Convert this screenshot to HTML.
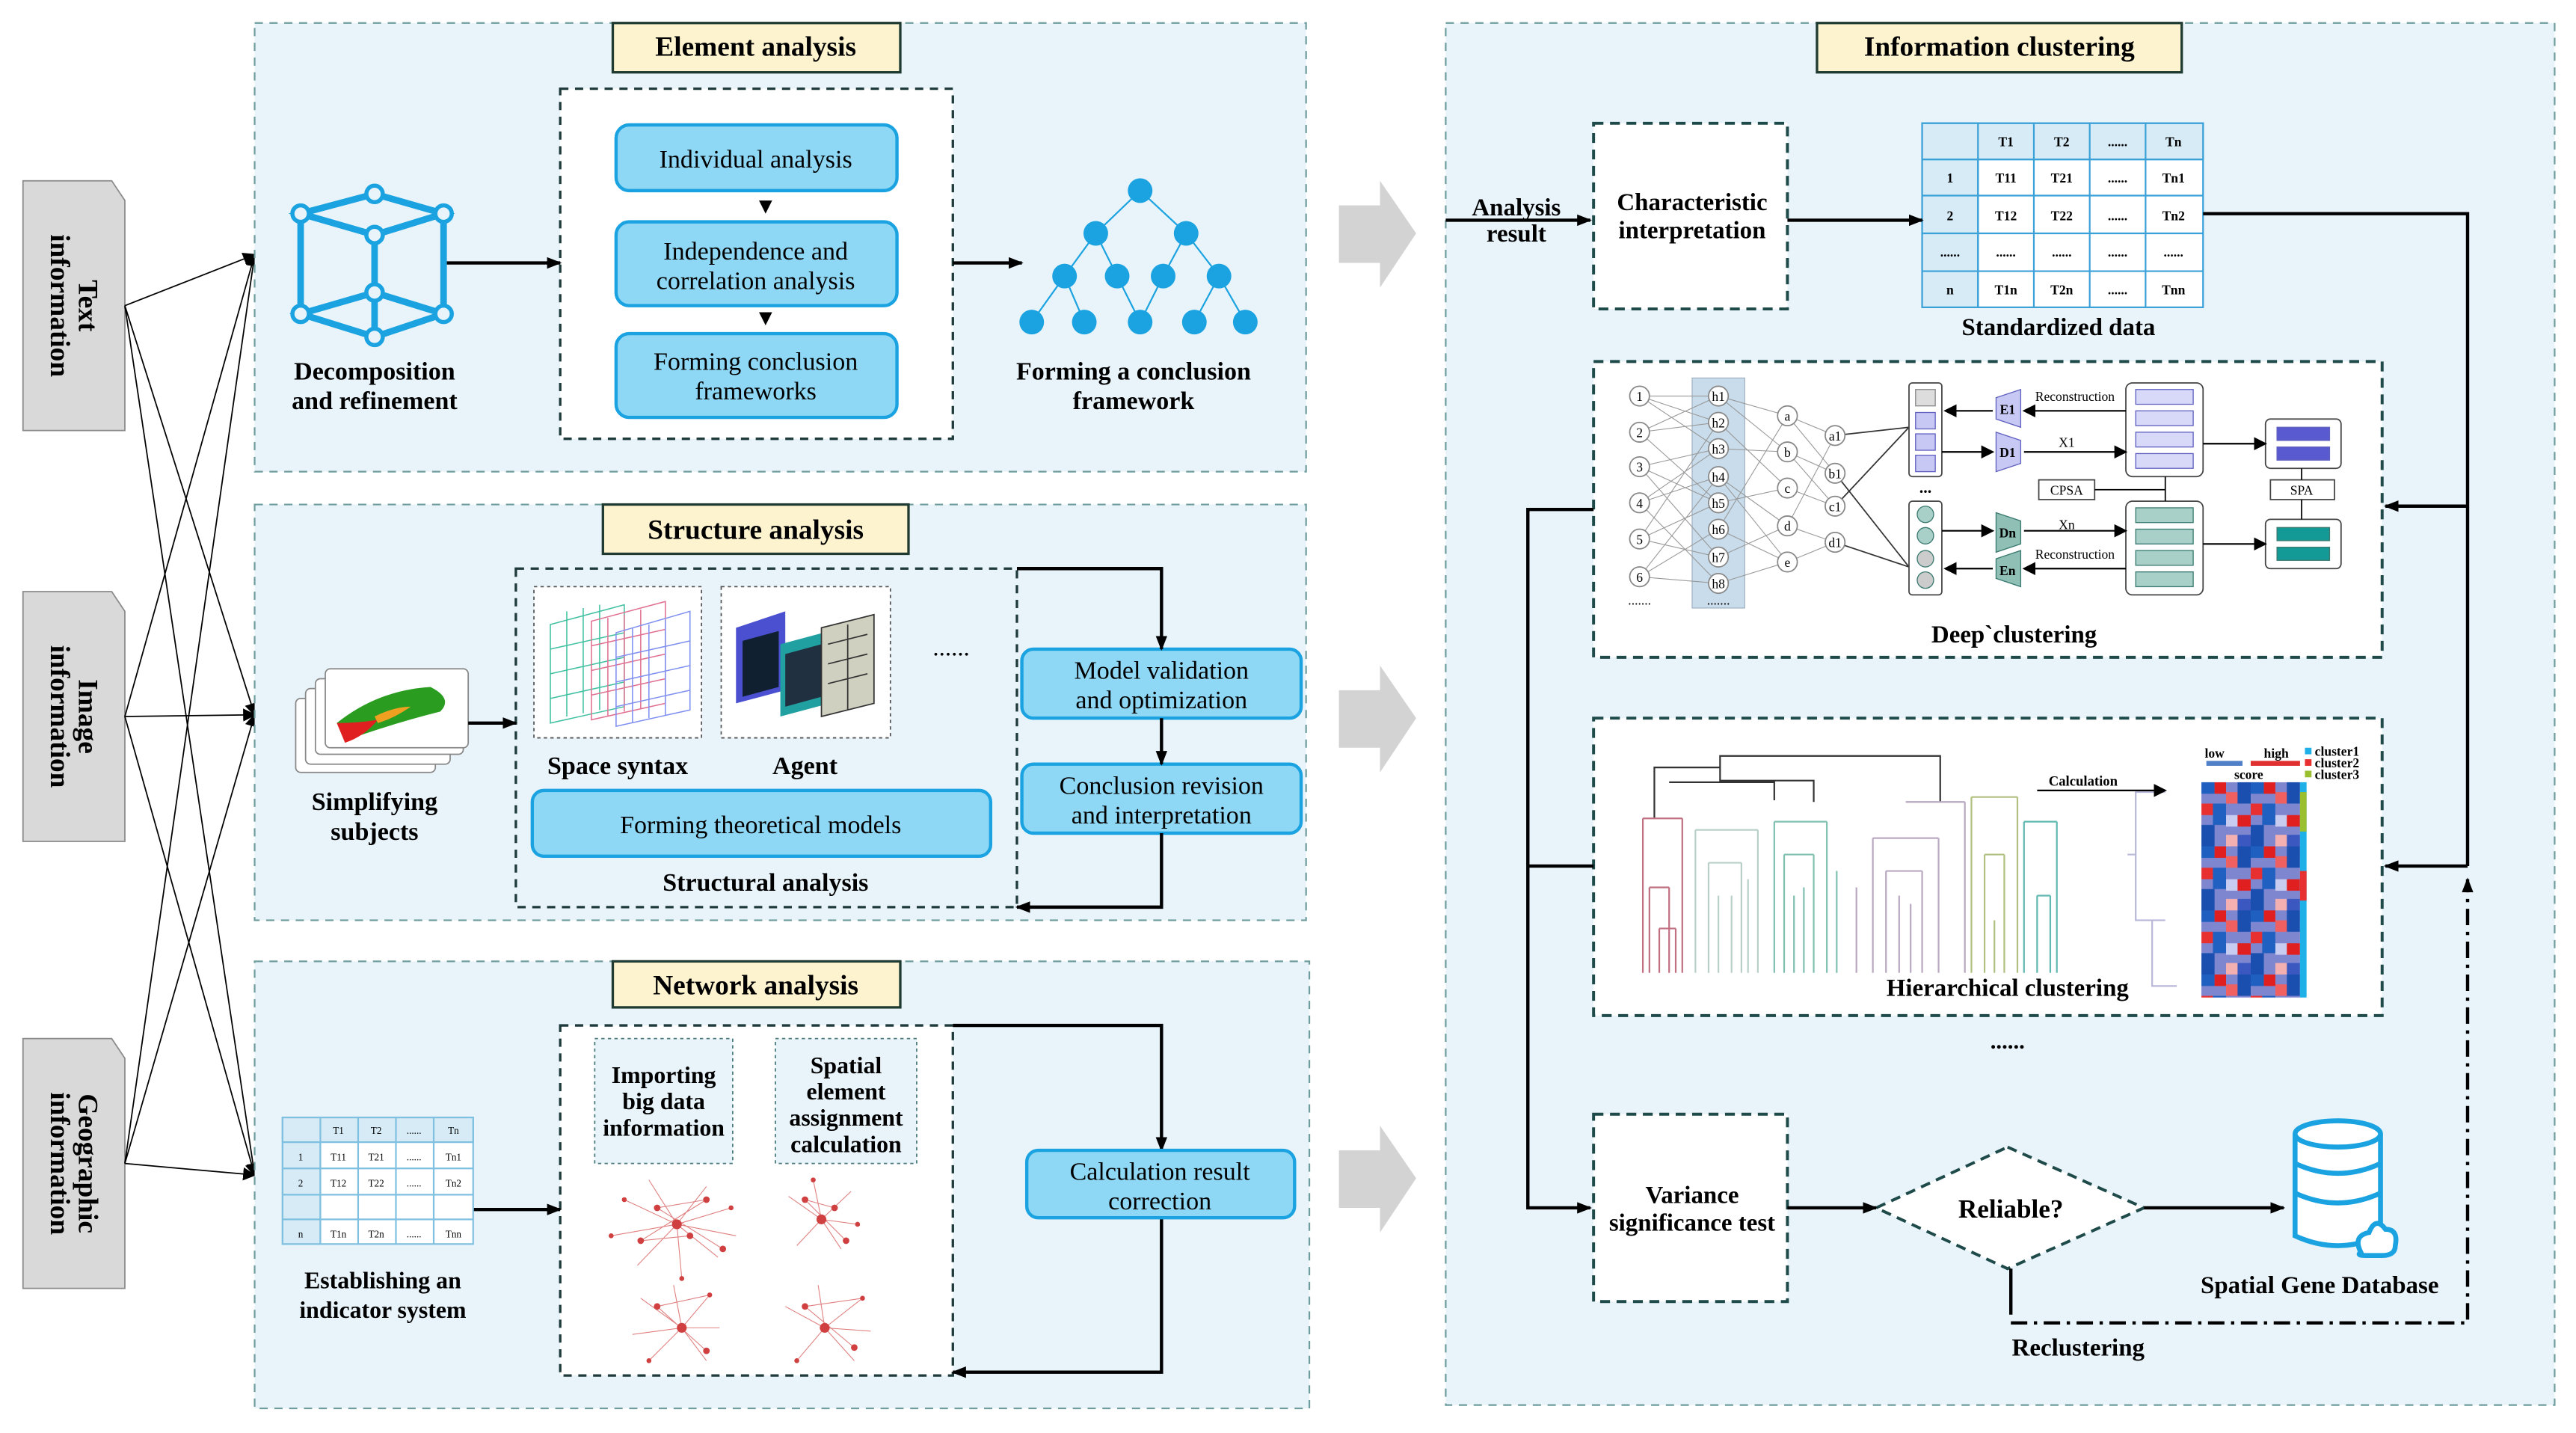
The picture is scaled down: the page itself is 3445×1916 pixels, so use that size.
<!DOCTYPE html>
<html><head><meta charset="utf-8"><style>html,body{margin:0;padding:0;background:#fff}svg{display:block}</style></head>
<body>
<svg width="3445" height="1916" viewBox="0 0 1568 872" preserveAspectRatio="none" xmlns="http://www.w3.org/2000/svg" font-family="Liberation Serif, serif">
<defs>
<marker id="a" markerWidth="8" markerHeight="8" refX="7" refY="4" orient="auto" markerUnits="userSpaceOnUse"><path d="M0,0 L8,4 L0,8 z" fill="#000"/></marker>
<marker id="s" markerWidth="9" markerHeight="7" refX="8" refY="3.5" orient="auto" markerUnits="userSpaceOnUse"><path d="M0,0 L9,3.5 L0,7 z" fill="#000"/></marker>
<pattern id="hm" width="30" height="39" patternUnits="userSpaceOnUse" x="1340" y="476">
<rect width="30" height="39" fill="#7f86d0"/>
<rect x="0" y="0" width="8" height="7" fill="#1f5fc0"/><rect x="8" y="0" width="7" height="7" fill="#e02020"/><rect x="15" y="6" width="8" height="7" fill="#f06060"/>
<rect x="22" y="0" width="8" height="13" fill="#1a4fb0"/><rect x="0" y="13" width="7" height="7" fill="#e83030"/><rect x="7" y="13" width="8" height="13" fill="#2060c0"/>
<rect x="15" y="20" width="8" height="7" fill="#c8ccf0"/><rect x="22" y="20" width="8" height="7" fill="#e02020"/><rect x="0" y="26" width="8" height="13" fill="#1a4fb0"/>
<rect x="15" y="32" width="8" height="7" fill="#f4b0b0"/><rect x="22" y="32" width="8" height="7" fill="#3a58c0"/>
</pattern>
</defs>
<rect width="1568" height="872" fill="#fff"/>

<!-- left tabs -->
<g fill="#d9d9d9" stroke="#8a8a8a" stroke-width="0.8">
<path d="M14,110 H68 L76,122 V262 H14 Z"/><path d="M14,360 H68 L76,372 V512 H14 Z"/><path d="M14,632 H68 L76,644 V784 H14 Z"/>
</g>
<g font-weight="bold" font-size="17" text-anchor="middle">
<text transform="translate(45,186) rotate(90)"><tspan x="0" dy="-3">Text</tspan><tspan x="0" dy="17">information</tspan></text>
<text transform="translate(45,436) rotate(90)"><tspan x="0" dy="-3">Image</tspan><tspan x="0" dy="17">information</tspan></text>
<text transform="translate(45,708) rotate(90)"><tspan x="0" dy="-3">Geographic</tspan><tspan x="0" dy="17">information</tspan></text>
</g>
<g stroke="#000" stroke-width="0.8" marker-end="url(#a)">
<line x1="76" y1="186" x2="155" y2="155"/><line x1="76" y1="186" x2="155" y2="435"/><line x1="76" y1="186" x2="155" y2="715"/>
<line x1="76" y1="436" x2="155" y2="155"/><line x1="76" y1="436" x2="155" y2="435"/><line x1="76" y1="436" x2="155" y2="715"/>
<line x1="76" y1="708" x2="155" y2="155"/><line x1="76" y1="708" x2="155" y2="435"/><line x1="76" y1="708" x2="155" y2="715"/>
</g>

<!-- panels -->
<g fill="#e8f3fa" stroke="#6f9d9d" stroke-width="1" stroke-dasharray="5,4">
<rect x="155" y="14" width="640" height="273"/><rect x="155" y="307" width="640" height="253"/><rect x="155" y="585" width="642" height="272"/><rect x="880" y="14" width="675" height="841"/>
</g>
<g fill="#fdf3cf" stroke="#1f3a30" stroke-width="1.5">
<rect x="373" y="14" width="175" height="30"/><rect x="367" y="307" width="186" height="30"/><rect x="373" y="585" width="175" height="28"/><rect x="1106" y="14" width="222" height="30"/>
</g>
<g font-weight="bold" font-size="17" text-anchor="middle">
<text x="460" y="34">Element analysis</text><text x="460" y="328">Structure analysis</text><text x="460" y="605">Network analysis</text><text x="1217" y="34">Information clustering</text>
</g>

<!-- gray big arrows -->
<g fill="#d3d3d3"><path d="M815,125 H840 V110 L862,142 L840,175 V160 H815 Z"/><path d="M815,420 H840 V405 L862,437 L840,470 V455 H815 Z"/><path d="M815,700 H840 V685 L862,717 L840,750 V735 H815 Z"/></g>

<!-- Element analysis -->
<rect x="341" y="54" width="239" height="213" fill="#fff" stroke="#1f3a3a" stroke-width="1.5" stroke-dasharray="5,4"/>
<g fill="#8fd8f5" stroke="#1aa3e0" stroke-width="2">
<rect x="375" y="76" width="171" height="40" rx="8"/><rect x="375" y="135" width="171" height="51" rx="8"/><rect x="375" y="203" width="171" height="51" rx="8"/>
</g>
<g font-size="15.5" text-anchor="middle">
<text x="460" y="102">Individual analysis</text><text x="460" y="158">Independence and</text><text x="460" y="176">correlation analysis</text>
<text x="460" y="225">Forming conclusion</text><text x="460" y="243">frameworks</text>
</g>
<path d="M462,122 L470,122 L466,130 Z M462,190 L470,190 L466,198 Z" fill="#000"/>
<g stroke="#1aa3e0" stroke-width="4" fill="none">
<path d="M183,130 L228,118 L270,130 L228,143 Z M183,191 L228,178 L270,191 L228,205 Z M183,130 V191 M270,130 V191 M228,143 V205"/>
</g>
<g fill="#e8f3fa" stroke="#1aa3e0" stroke-width="2.5">
<circle cx="183" cy="130" r="5"/><circle cx="228" cy="118" r="5"/><circle cx="270" cy="130" r="5"/><circle cx="228" cy="143" r="5"/>
<circle cx="183" cy="191" r="5"/><circle cx="228" cy="178" r="5"/><circle cx="270" cy="191" r="5"/><circle cx="228" cy="205" r="5"/>
</g>
<g font-weight="bold" font-size="15.5" text-anchor="middle">
<text x="228" y="231">Decomposition</text><text x="228" y="249">and refinement</text>
<text x="690" y="231">Forming a conclusion</text><text x="690" y="249">framework</text>
</g>
<g stroke="#000" stroke-width="2" marker-end="url(#s)"><line x1="272" y1="160" x2="341" y2="160"/><line x1="580" y1="160" x2="622" y2="160"/></g>
<g stroke="#1aa3e0" stroke-width="1" fill="none">
<path d="M694,116 L667,142 L648,168 L628,196 M648,168 L660,196 M667,142 L680,168 L694,196 M694,116 L722,142 L708,168 L694,196 M722,142 L742,168 L727,196 M742,168 L758,196"/>
</g>
<g fill="#1aa3e0"><circle cx="694" cy="116" r="7.5"/><circle cx="667" cy="142" r="7.5"/><circle cx="722" cy="142" r="7.5"/>
<circle cx="648" cy="168" r="7.5"/><circle cx="680" cy="168" r="7.5"/><circle cx="708" cy="168" r="7.5"/><circle cx="742" cy="168" r="7.5"/>
<circle cx="628" cy="196" r="7.5"/><circle cx="660" cy="196" r="7.5"/><circle cx="694" cy="196" r="7.5"/><circle cx="727" cy="196" r="7.5"/><circle cx="758" cy="196" r="7.5"/></g>

<!-- Structure analysis -->
<rect x="314" y="346" width="305" height="206" fill="#e8f3fa" stroke="#1f3a3a" stroke-width="1.5" stroke-dasharray="5,4"/>
<g fill="#fff" stroke="#555" stroke-width="0.8" stroke-dasharray="2,2"><rect x="325" y="357" width="102" height="92"/><rect x="439" y="357" width="103" height="92"/></g>
<g fill="none" stroke-width="0.7">
<path d="M335,380 L380,368 L380,430 L335,440 Z M345,372 V436 M355,370 V434 M365,368 V432 M335,395 L380,385 M335,410 L380,400 M335,425 L380,415" stroke="#40c0a0"/>
<path d="M360,378 L405,366 L405,428 L360,438 Z M370,376 V436 M380,374 V433 M390,371 V431 M360,393 L405,383 M360,408 L405,398 M360,423 L405,413" stroke="#e07090"/>
<path d="M375,385 L420,372 L420,432 L375,442 Z M385,382 V440 M395,380 V437 M405,377 V435 M375,400 L420,390 M375,415 L420,405 M375,430 L420,420" stroke="#8090f0"/>
</g>
<path d="M448,382 L478,372 L478,420 L448,428 Z" fill="#4a50d0"/><path d="M452,390 L474,384 L474,418 L452,424 Z" fill="#102030"/>
<path d="M475,392 L505,384 L505,428 L475,436 Z" fill="#20a0a0"/><path d="M478,398 L500,392 L500,424 L478,430 Z" fill="#203040"/>
<path d="M500,382 L532,374 L532,428 L500,436 Z" fill="#d0d0c0" stroke="#333" stroke-width="0.8"/><path d="M504,392 L528,386 M504,404 L528,398 M504,416 L528,410 M516,380 V432" stroke="#333" stroke-width="0.8" fill="none"/>
<text x="579" y="399" font-size="15" text-anchor="middle">......</text>
<g font-weight="bold" font-size="15.5" text-anchor="middle"><text x="376" y="471">Space syntax</text><text x="490" y="471">Agent</text><text x="466" y="542">Structural analysis</text>
<text x="228" y="493">Simplifying</text><text x="228" y="511">subjects</text></g>
<rect x="324" y="481" width="279" height="40" rx="7" fill="#8fd8f5" stroke="#1aa3e0" stroke-width="2"/>
<text x="463" y="507" font-size="15.5" text-anchor="middle">Forming theoretical models</text>
<g fill="#fff" stroke="#888" stroke-width="0.8"><rect x="180" y="425" width="85" height="45" rx="3"/><rect x="186" y="419" width="88" height="46" rx="3"/><rect x="192" y="413" width="90" height="46" rx="3"/><rect x="198" y="407" width="87" height="48" rx="3"/></g>
<path d="M205,440 Q230,420 262,418 Q276,425 268,433 Q240,440 212,450 Z" fill="#2a9d20"/><path d="M205,440 Q218,440 230,438 Q222,448 210,452 Z" fill="#e02020"/><path d="M228,436 Q240,430 250,430 Q240,437 230,440Z" fill="#f0a020"/>
<line x1="285" y1="440" x2="314" y2="440" stroke="#000" stroke-width="2" marker-end="url(#s)"/>
<g fill="#8fd8f5" stroke="#1aa3e0" stroke-width="2"><rect x="622" y="395" width="170" height="42" rx="7"/><rect x="622" y="465" width="170" height="42" rx="7"/></g>
<g font-size="15.5" text-anchor="middle"><text x="707" y="413">Model validation</text><text x="707" y="431">and optimization</text>
<text x="707" y="483">Conclusion revision</text><text x="707" y="501">and interpretation</text></g>
<g stroke="#000" stroke-width="2" fill="none" marker-end="url(#s)">
<path d="M619,346 H707 V395"/><line x1="707" y1="437" x2="707" y2="465"/><path d="M707,507 V552 H619"/>
</g>

<!-- Network analysis -->
<rect x="341" y="624" width="239" height="213" fill="#fff" stroke="#1f3a3a" stroke-width="1.5" stroke-dasharray="5,4"/>
<g fill="#e8f3fa" stroke="#4a7a7a" stroke-width="0.8" stroke-dasharray="2,2"><rect x="362" y="632" width="84" height="76"/><rect x="472" y="632" width="86" height="76"/></g>
<g font-weight="bold" font-size="14.5" text-anchor="middle">
<text x="404" y="659">Importing</text><text x="404" y="675">big data</text><text x="404" y="691">information</text>
<text x="515" y="653">Spatial</text><text x="515" y="669">element</text><text x="515" y="685">assignment</text><text x="515" y="701">calculation</text>
<text x="233" y="784">Establishing an</text><text x="233" y="802">indicator system</text></g>
<g stroke="#e08080" stroke-width="0.5" fill="none">
<path d="M412,745 L380,730 M412,745 L395,718 M412,745 L430,722 M412,745 L445,735 M412,745 L448,752 M412,745 L437,765 M412,745 L415,778 M412,745 L388,770 M412,745 L372,752 M400,735 L440,760 M390,755 L430,730 M400,735 L430,730 M390,755 L420,752"/>
<path d="M500,742 L480,728 M500,742 L495,718 M500,742 L518,725 M500,742 L522,745 M500,742 L512,760 M500,742 L485,758 M490,730 L515,755 M490,730 L508,735"/>
<path d="M415,808 L390,790 M415,808 L410,782 M415,808 L432,788 M415,808 L438,808 M415,808 L430,828 M415,808 L395,828 M415,808 L385,812 M400,795 L430,822 M400,795 L432,788"/>
<path d="M502,808 L478,795 M502,808 L498,782 M502,808 L525,790 M502,808 L530,810 M502,808 L520,828 M502,808 L485,828 M490,795 L520,820 M490,795 L525,790"/>
</g>
<g fill="#d04040">
<circle cx="412" cy="745" r="3"/><circle cx="400" cy="735" r="2"/><circle cx="430" cy="730" r="2"/><circle cx="440" cy="760" r="2"/><circle cx="390" cy="755" r="2"/><circle cx="420" cy="752" r="2"/><circle cx="380" cy="730" r="1.5"/><circle cx="445" cy="735" r="1.5"/><circle cx="415" cy="778" r="1.5"/><circle cx="372" cy="752" r="1.5"/>
<circle cx="500" cy="742" r="3"/><circle cx="490" cy="730" r="2"/><circle cx="515" cy="755" r="2"/><circle cx="508" cy="735" r="2"/><circle cx="495" cy="718" r="1.5"/><circle cx="522" cy="745" r="1.5"/>
<circle cx="415" cy="808" r="3"/><circle cx="400" cy="795" r="2"/><circle cx="430" cy="822" r="2"/><circle cx="432" cy="788" r="1.5"/><circle cx="395" cy="828" r="1.5"/>
<circle cx="502" cy="808" r="3"/><circle cx="490" cy="795" r="2"/><circle cx="520" cy="820" r="2"/><circle cx="525" cy="790" r="1.5"/><circle cx="485" cy="828" r="1.5"/>
</g>
<g stroke="#000" stroke-width="2" fill="none" marker-end="url(#s)"><line x1="288" y1="736" x2="341" y2="736"/><path d="M580,624 H707 V700"/><path d="M707,741 V835 H580"/></g>
<rect x="625" y="700" width="163" height="41" rx="7" fill="#8fd8f5" stroke="#1aa3e0" stroke-width="2"/>
<g font-size="15.5" text-anchor="middle"><text x="706" y="718">Calculation result</text><text x="706" y="736">correction</text></g>

<!-- small indicator table -->
<g stroke="#7fc0e0" stroke-width="1" fill="#fff">
<rect x="172" y="680" width="116" height="77"/>
<rect x="172" y="680" width="23" height="77" fill="#d6ebf6"/><rect x="172" y="680" width="116" height="15" fill="#d6ebf6"/>
<path d="M195,680 V757 M218,680 V757 M241,680 V757 M264,680 V757 M172,695 H288 M172,711 H288 M172,727 H288 M172,742 H288" fill="none"/>
</g>
<g font-size="6" text-anchor="middle"><text x="206" y="690">T1</text><text x="229" y="690">T2</text><text x="252" y="690">......</text><text x="276" y="690">Tn</text>
<text x="183" y="706">1</text><text x="206" y="706">T11</text><text x="229" y="706">T21</text><text x="252" y="706">......</text><text x="276" y="706">Tn1</text>
<text x="183" y="722">2</text><text x="206" y="722">T12</text><text x="229" y="722">T22</text><text x="252" y="722">......</text><text x="276" y="722">Tn2</text>
<text x="183" y="753">n</text><text x="206" y="753">T1n</text><text x="229" y="753">T2n</text><text x="252" y="753">......</text><text x="276" y="753">Tnn</text></g>

<!-- Information clustering -->
<g fill="#fff" stroke="#1f4a4a" stroke-width="1.8" stroke-dasharray="6,4">
<rect x="970" y="75" width="118" height="113"/><rect x="970" y="220" width="480" height="180"/><rect x="970" y="437" width="480" height="181"/><rect x="970" y="678" width="118" height="114"/>
<path d="M1222,698 L1305,735 L1222,772 L1142,735 Z"/>
</g>
<g font-weight="bold" font-size="15" text-anchor="middle">
<text x="923" y="131">Analysis</text><text x="923" y="147">result</text>
<text x="1030" y="128">Characteristic</text><text x="1030" y="145">interpretation</text>
<text x="1253" y="204">Standardized data</text><text x="1226" y="391">Deep`clustering</text><text x="1222" y="606">Hierarchical clustering</text>
<text x="1030" y="732">Variance</text><text x="1030" y="749">significance test</text>
<text x="1224" y="741" font-size="16">Reliable?</text><text x="1412" y="787">Spatial Gene Database</text><text x="1265" y="825">Reclustering</text>
</g>
<text x="1222" y="638" font-size="14" font-weight="bold" text-anchor="middle">......</text>
<!-- std table -->
<g stroke="#3aa0d8" stroke-width="1" fill="#fff">
<rect x="1170" y="75" width="171" height="112"/><rect x="1170" y="75" width="34" height="112" fill="#d6ebf6"/><rect x="1170" y="75" width="171" height="22" fill="#d6ebf6"/>
<path d="M1204,75 V187 M1238,75 V187 M1272,75 V187 M1306,75 V187 M1170,97 H1341 M1170,119 H1341 M1170,142 H1341 M1170,165 H1341" fill="none"/>
</g>
<g font-size="8" text-anchor="middle" font-weight="bold"><text x="1221" y="89">T1</text><text x="1255" y="89">T2</text><text x="1289" y="89">......</text><text x="1323" y="89">Tn</text>
<text x="1187" y="111">1</text><text x="1221" y="111">T11</text><text x="1255" y="111">T21</text><text x="1289" y="111">......</text><text x="1323" y="111">Tn1</text>
<text x="1187" y="134">2</text><text x="1221" y="134">T12</text><text x="1255" y="134">T22</text><text x="1289" y="134">......</text><text x="1323" y="134">Tn2</text>
<text x="1187" y="156">......</text><text x="1221" y="156">......</text><text x="1255" y="156">......</text><text x="1289" y="156">......</text><text x="1323" y="156">......</text>
<text x="1187" y="179">n</text><text x="1221" y="179">T1n</text><text x="1255" y="179">T2n</text><text x="1289" y="179">......</text><text x="1323" y="179">Tnn</text></g>
<g stroke="#000" stroke-width="2" fill="none">
<line x1="880" y1="134" x2="968" y2="134" marker-end="url(#s)"/><line x1="1088" y1="134" x2="1170" y2="134" marker-end="url(#s)"/>
<path d="M1341,130 H1502 V527"/><line x1="1502" y1="308" x2="1452" y2="308" marker-end="url(#s)"/><line x1="1502" y1="527" x2="1452" y2="527" marker-end="url(#s)"/>
<path d="M970,310 H930 V735 H968" marker-end="url(#s)"/><line x1="930" y1="527" x2="970" y2="527"/>
<line x1="1088" y1="735" x2="1142" y2="735" marker-end="url(#s)"/><line x1="1305" y1="735" x2="1390" y2="735" marker-end="url(#s)"/>
<line x1="1224" y1="772" x2="1224" y2="800"/>
<path d="M1224,805 H1502 V535" stroke-dasharray="10,4,2,4" marker-end="url(#s)"/>
</g>
<!-- database -->
<g fill="#fff" stroke="#1aa3e0" stroke-width="3">
<path d="M1397,690 V752 Q1423,764 1449,752 V690"/><ellipse cx="1423" cy="690" rx="26" ry="8"/>
<path d="M1397,708 Q1423,720 1449,708 M1397,726 Q1423,738 1449,726" fill="none"/>
<path d="M1437,762 Q1432,752 1442,750 Q1446,740 1452,748 Q1460,748 1458,758 Q1458,764 1450,764 H1440 Q1434,764 1437,762 Z"/>
</g>

<!-- deep clustering details -->
<rect x="1030" y="230" width="32" height="140" fill="#c8dceb" stroke="#9ab" stroke-width="0.5"/>
<g stroke="#999" stroke-width="0.5" fill="none">
<path d="M998,241 L1046,241 M998,263 L1046,257 M998,284 L1046,273 M998,306 L1046,290 M998,328 L1046,306 M998,351 L1046,322 M998,241 L1046,273 M998,263 L1046,306 M998,284 L1046,339 M998,306 L1046,355 M998,351 L1046,290 M998,328 L1046,257 M998,241 L1046,257 M998,263 L1046,241 M998,284 L1046,306 M998,306 L1046,273 M998,328 L1046,339 M998,351 L1046,355"/>
<path d="M1046,241 L1088,253 M1046,273 L1088,275 M1046,306 L1088,297 M1046,339 L1088,320 M1046,355 L1088,342 M1046,257 L1088,297 M1046,290 L1088,342 M1046,322 L1088,253 M1046,241 L1088,275 M1046,290 L1088,320 M1046,322 L1088,342"/>
<path d="M1088,253 L1117,265 M1088,275 L1117,288 M1088,297 L1117,308 M1088,320 L1117,330 M1088,253 L1117,288 M1088,320 L1117,265 M1088,342 L1117,330 M1088,275 L1117,308"/>
</g>
<g stroke="#333" stroke-width="0.8" fill="none"><path d="M1117,265 L1162,260 M1117,288 L1162,345 M1117,308 L1162,260 M1117,330 L1162,345"/></g>
<g fill="#fff" stroke="#888" stroke-width="0.8">
<circle cx="998" cy="241" r="6"/><circle cx="998" cy="263" r="6"/><circle cx="998" cy="284" r="6"/><circle cx="998" cy="306" r="6"/><circle cx="998" cy="328" r="6"/><circle cx="998" cy="351" r="6"/>
<circle cx="1046" cy="241" r="6"/><circle cx="1046" cy="257" r="6"/><circle cx="1046" cy="273" r="6"/><circle cx="1046" cy="290" r="6"/><circle cx="1046" cy="306" r="6"/><circle cx="1046" cy="322" r="6"/><circle cx="1046" cy="339" r="6"/><circle cx="1046" cy="355" r="6"/>
<circle cx="1088" cy="253" r="6"/><circle cx="1088" cy="275" r="6"/><circle cx="1088" cy="297" r="6"/><circle cx="1088" cy="320" r="6"/><circle cx="1088" cy="342" r="6"/>
<circle cx="1117" cy="265" r="6"/><circle cx="1117" cy="288" r="6"/><circle cx="1117" cy="308" r="6"/><circle cx="1117" cy="330" r="6"/>
</g>
<g font-size="8" text-anchor="middle">
<text x="998" y="244">1</text><text x="998" y="266">2</text><text x="998" y="287">3</text><text x="998" y="309">4</text><text x="998" y="331">5</text><text x="998" y="354">6</text><text x="998" y="368">.......</text>
<text x="1046" y="244">h1</text><text x="1046" y="260">h2</text><text x="1046" y="276">h3</text><text x="1046" y="293">h4</text><text x="1046" y="309">h5</text><text x="1046" y="325">h6</text><text x="1046" y="342">h7</text><text x="1046" y="358">h8</text><text x="1046" y="368">.......</text>
<text x="1088" y="256">a</text><text x="1088" y="278">b</text><text x="1088" y="300">c</text><text x="1088" y="323">d</text><text x="1088" y="345">e</text>
<text x="1117" y="268">a1</text><text x="1117" y="291">b1</text><text x="1117" y="311">c1</text><text x="1117" y="333">d1</text>
<text x="1172" y="300" font-weight="bold" font-size="10">...</text>
</g>
<g fill="#fff" stroke="#444" stroke-width="0.8">
<rect x="1162" y="233" width="20" height="57" rx="2"/><rect x="1162" y="305" width="20" height="57" rx="2"/>
<rect x="1294" y="233" width="47" height="57" rx="4"/><rect x="1294" y="305" width="47" height="57" rx="4"/>
<rect x="1379" y="255" width="46" height="30" rx="3"/><rect x="1379" y="316" width="46" height="30" rx="3"/>
<rect x="1241" y="292" width="34" height="12"/><rect x="1382" y="292" width="39" height="12"/>
</g>
<g stroke="#6060c0" stroke-width="0.6"><rect x="1166" y="237" width="12" height="10" fill="#ddd" stroke="#888"/><rect x="1166" y="251" width="12" height="10" fill="#c8c8f4"/><rect x="1166" y="264" width="12" height="10" fill="#c8c8f4"/><rect x="1166" y="277" width="12" height="10" fill="#c8c8f4"/>
<rect x="1300" y="237" width="35" height="9" fill="#d8d8f8"/><rect x="1300" y="250" width="35" height="9" fill="#d8d8f8"/><rect x="1300" y="263" width="35" height="9" fill="#d8d8f8"/><rect x="1300" y="276" width="35" height="9" fill="#d8d8f8"/>
<rect x="1386" y="260" width="32" height="8" fill="#5a5ad0"/><rect x="1386" y="272" width="32" height="8" fill="#5a5ad0"/></g>
<g stroke="#3a7a70" stroke-width="0.6"><circle cx="1172" cy="313" r="5" fill="#a8cfc8"/><circle cx="1172" cy="326" r="5" fill="#a8cfc8"/><circle cx="1172" cy="340" r="5" fill="#ccc"/><circle cx="1172" cy="353" r="5" fill="#ccc"/>
<rect x="1300" y="309" width="35" height="9" fill="#a8cfc8"/><rect x="1300" y="322" width="35" height="9" fill="#a8cfc8"/><rect x="1300" y="335" width="35" height="9" fill="#a8cfc8"/><rect x="1300" y="348" width="35" height="9" fill="#a8cfc8"/>
<rect x="1386" y="321" width="32" height="8" fill="#149a96"/><rect x="1386" y="333" width="32" height="8" fill="#149a96"/></g>
<g fill="#c8c8f4" stroke="#6060c0" stroke-width="0.6"><path d="M1215,242 L1230,237 V260 L1215,255 Z"/><path d="M1215,263 L1230,268 V282 L1215,287 Z"/></g>
<g fill="#8fbfb5" stroke="#3a7a70" stroke-width="0.6"><path d="M1215,312 L1230,317 V331 L1215,336 Z"/><path d="M1215,340 L1230,335 V357 L1215,352 Z"/></g>
<g font-size="8" font-weight="bold" text-anchor="middle"><text x="1222" y="252">E1</text><text x="1222" y="278">D1</text><text x="1222" y="327">Dn</text><text x="1222" y="350">En</text>
<text x="1263" y="244" font-weight="normal">Reconstruction</text><text x="1263" y="340" font-weight="normal">Reconstruction</text><text x="1258" y="272" font-weight="normal">X1</text><text x="1258" y="322" font-weight="normal">Xn</text>
<text x="1258" y="301" font-weight="normal">CPSA</text><text x="1401" y="301" font-weight="normal">SPA</text></g>
<g stroke="#000" stroke-width="1" marker-end="url(#a)">
<line x1="1294" y1="250" x2="1232" y2="250"/><line x1="1213" y1="250" x2="1184" y2="250"/><line x1="1182" y1="275" x2="1213" y2="275"/><line x1="1232" y1="275" x2="1294" y2="275"/>
<line x1="1182" y1="323" x2="1213" y2="323"/><line x1="1232" y1="323" x2="1294" y2="323"/><line x1="1294" y1="346" x2="1232" y2="346"/><line x1="1213" y1="346" x2="1184" y2="346"/>
<line x1="1341" y1="270" x2="1379" y2="270"/><line x1="1341" y1="331" x2="1379" y2="331"/>
</g>
<path d="M1275,298 H1318 V290 M1318,298 V305 M1401,285 V292 M1401,304 V316" stroke="#000" stroke-width="0.8" fill="none"/>

<!-- hierarchical -->
<g fill="none" stroke-width="1">
<path d="M1007,498 V467 H1047 M1047,467 V460 H1181 V488 M1047,467 V475 H1104 V488 M1016,476 H1080 V487" stroke="#333"/>
<path d="M1007,498 H1016 M1000,498 H1024 M1000,498 V592 M1024,498 V592 M1004,540 H1016 M1004,540 V592 M1016,540 V592 M1010,565 H1020 M1010,565 V592 M1020,565 V592" stroke="#c07080"/>
<path d="M1032,505 H1070 M1032,505 V592 M1070,505 V592 M1040,525 H1060 M1040,525 V592 M1060,525 V592 M1046,545 V592 M1054,545 V592 M1064,535 V592" stroke="#b8d0c8"/>
<path d="M1080,500 H1112 M1080,500 V592 M1112,500 V592 M1086,520 H1104 M1086,520 V592 M1104,520 V592 M1092,545 V592 M1098,540 V592 M1118,530 V592" stroke="#80c0b0"/>
<path d="M1160,488 H1196 M1140,510 H1180 M1140,510 V592 M1180,510 V592 M1148,530 H1170 M1148,530 V592 M1170,530 V592 M1156,545 V592 M1163,550 V592 M1196,488 V592 M1130,540 V592" stroke="#b8a8c0"/>
<path d="M1200,485 H1228 M1200,485 V592 M1228,485 V592 M1208,520 H1220 M1208,520 V592 M1220,520 V592 M1214,560 V592" stroke="#b0c080"/>
<path d="M1232,500 H1252 M1232,500 V592 M1252,500 V592 M1240,545 H1248 M1240,545 V592 M1248,545 V592" stroke="#60b8b0"/>
<path d="M1300,520 V482 H1318 M1300,520 V560 H1318 M1310,560 V600 H1325 M1300,520 H1295" stroke="#b8b8d8"/>
</g>
<line x1="1240" y1="481" x2="1318" y2="481" stroke="#000" stroke-width="1" marker-end="url(#a)"/>
<text x="1268" y="478" font-size="8.5" font-weight="bold" text-anchor="middle">Calculation</text>
<rect x="1340" y="476" width="60" height="131" fill="url(#hm)"/>
<rect x="1400" y="476" width="4" height="131" fill="#20b0e8"/><rect x="1400" y="482" width="4" height="24" fill="#9ac030"/><rect x="1400" y="530" width="4" height="18" fill="#e83030"/>
<rect x="1343" y="463" width="22" height="3" fill="#5080c8"/><rect x="1370" y="463" width="30" height="3" fill="#e03030"/>
<rect x="1403" y="455" width="4" height="4" fill="#20b0e8"/><rect x="1403" y="462" width="4" height="4" fill="#e83030"/><rect x="1403" y="469" width="4" height="4" fill="#9ac030"/>
<g font-size="8" font-weight="bold"><text x="1342" y="461">low</text><text x="1378" y="461">high</text><text x="1360" y="474">score</text><text x="1409" y="460">cluster1</text><text x="1409" y="467">cluster2</text><text x="1409" y="474">cluster3</text></g>
</svg>
</body></html>
